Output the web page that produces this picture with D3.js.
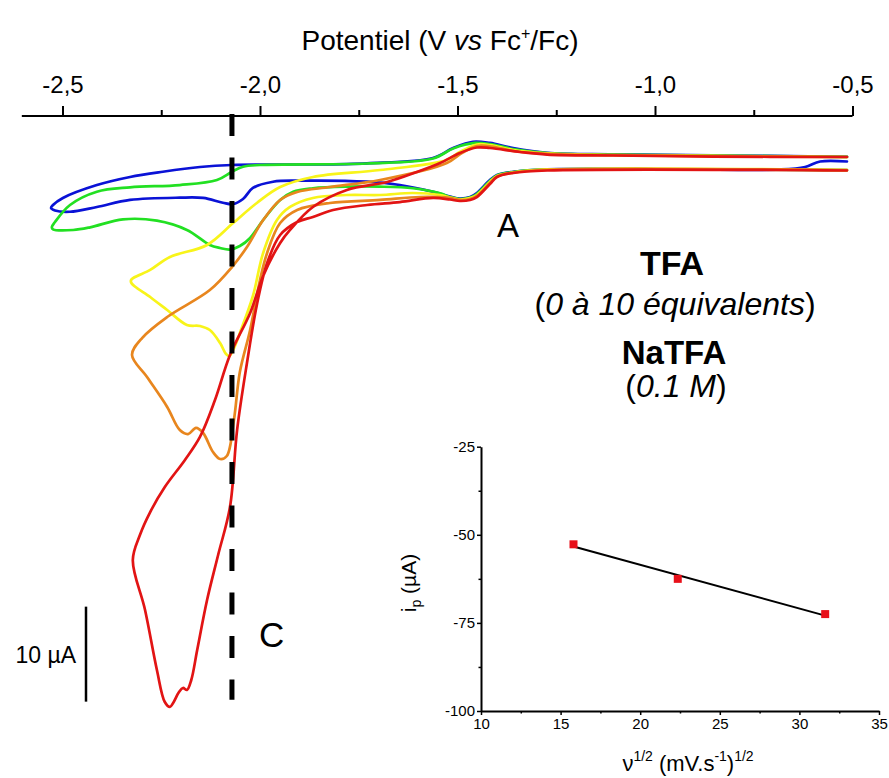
<!DOCTYPE html>
<html><head><meta charset="utf-8">
<script src="https://cdn.jsdelivr.net/npm/d3@7"></script>
<style>
html,body{margin:0;padding:0;background:#fff;}
svg{display:block;font-family:"Liberation Sans",Arial,sans-serif;}
</style></head>
<body><svg id="chart" width="889" height="778"></svg>
<script>
// ---------- DATA (E in V vs Fc+/Fc, i in µA) ----------
const potentialTicks = [-2.5, -2.0, -1.5, -1.0, -0.5];
const potentialMinorTicks = [-2.25, -1.75, -1.25, -0.75];
const markerPotential = -2.071;           // dashed vertical line (peak C)
const scaleBarValue = 10;                 // µA
const scaleBarTop = -46.7;                // µA, top of scale bar

const blueCV = [
 [-0.514,0.16],[-0.582,0.16],[-0.620,-0.42],[-0.684,-0.68],[-0.937,-0.66],[-1.273,-0.66],
 [-1.359,-0.92],[-1.400,-1.26],[-1.418,-1.79],[-1.451,-3.16],[-1.468,-3.58],[-1.494,-3.74],
 [-1.519,-3.53],[-1.562,-3.04],[-1.646,-2.32],[-1.729,-1.97],[-1.899,-1.86],[-1.967,-1.97],
 [-2.018,-2.63],[-2.043,-3.79],[-2.068,-4.32],[-2.094,-4.18],[-2.144,-3.68],[-2.203,-3.65],
 [-2.329,-3.89],[-2.413,-4.63],[-2.481,-5.13],[-2.519,-5.0],[-2.529,-4.74],
 [-2.524,-4.42],[-2.499,-3.68],[-2.413,-2.32],[-2.329,-1.47],[-2.246,-0.92],[-2.152,-0.42],
 [-2.071,-0.21],[-1.899,-0.16],[-1.729,-0.03],[-1.562,0.53],[-1.511,1.58],[-1.461,2.24],
 [-1.418,2.11],[-1.359,1.58],[-1.273,1.08],[-1.106,0.92],[-0.853,0.81],[-0.514,0.66]
];
const greenCV = [
 [-0.514,-0.74],[-0.937,-0.68],[-1.273,-0.68],[-1.359,-0.95],[-1.400,-1.32],[-1.418,-1.89],
 [-1.451,-3.26],[-1.468,-3.63],[-1.494,-3.79],[-1.519,-3.58],[-1.544,-3.19],[-1.613,-2.66],
 [-1.696,-2.49],[-1.780,-2.49],[-1.866,-2.66],[-1.916,-3.02],[-1.949,-3.89],[-1.992,-6.0],
 [-2.025,-7.89],[-2.051,-8.74],[-2.076,-9.11],[-2.101,-8.95],[-2.127,-8.63],[-2.185,-7.05],
 [-2.261,-6.07],[-2.347,-5.93],[-2.430,-6.77],[-2.473,-7.05],[-2.524,-6.98],[-2.527,-6.74],
 [-2.519,-6.21],[-2.481,-4.42],[-2.413,-3.02],[-2.329,-2.56],[-2.203,-2.32],[-2.109,-1.79],
 [-2.071,-0.92],[-2.043,-0.39],[-2.000,-0.21],[-1.729,-0.05],[-1.562,0.47],[-1.511,1.53],
 [-1.456,2.11],[-1.418,2.0],[-1.359,1.47],[-1.273,1.05],[-1.106,0.88],[-0.853,0.79],[-0.514,0.65]
];
const yellowCV = [
 [-0.514,-0.74],[-1.273,-0.68],[-1.359,-1.0],[-1.400,-1.37],[-1.418,-2.0],[-1.451,-3.37],
 [-1.468,-3.68],[-1.494,-3.84],[-1.519,-3.63],[-1.544,-3.37],[-1.613,-3.16],[-1.696,-3.37],
 [-1.780,-3.37],[-1.866,-3.68],[-1.924,-4.63],[-1.957,-6.0],[-1.992,-9.47],[-2.018,-14.0],
 [-2.051,-17.89],[-2.068,-19.68],[-2.078,-20.32],[-2.086,-20.11],[-2.101,-18.95],[-2.127,-17.58],
 [-2.152,-17.16],[-2.185,-17.05],[-2.235,-15.47],[-2.278,-14.11],[-2.327,-12.42],
 [-2.278,-11.26],[-2.228,-9.89],[-2.134,-8.63],[-2.068,-6.32],[-2.008,-4.21],
 [-1.949,-2.53],[-1.866,-1.47],[-1.696,-0.74],[-1.527,0.32],[-1.494,1.16],[-1.451,1.95],
 [-1.418,1.89],[-1.359,1.37],[-1.273,1.02],[-1.106,0.84],[-0.853,0.74],[-0.514,0.63]
];
const orangeCV = [
 [-0.514,-0.74],[-1.273,-0.71],[-1.359,-1.0],[-1.400,-1.42],[-1.418,-2.11],[-1.451,-3.47],
 [-1.468,-3.79],[-1.494,-3.89],[-1.519,-3.68],[-1.595,-3.58],[-1.696,-3.89],[-1.823,-4.21],
 [-1.906,-4.95],[-1.949,-6.32],[-1.982,-9.47],[-2.000,-12.32],[-2.025,-17.58],[-2.051,-22.0],
 [-2.066,-27.05],[-2.084,-30.84],[-2.101,-31.16],[-2.119,-30.42],[-2.144,-28.42],[-2.162,-27.89],
 [-2.182,-28.53],[-2.203,-28.11],[-2.235,-25.68],[-2.286,-22.53],[-2.324,-20.21],
 [-2.298,-18.4],[-2.235,-16.21],[-2.127,-13.37],[-2.071,-10.95],[-2.033,-8.84],[-1.992,-6.0],
 [-1.949,-3.89],[-1.906,-3.05],[-1.823,-2.53],[-1.696,-1.79],[-1.527,0.0],[-1.489,1.05],
 [-1.451,1.79],[-1.413,1.74],[-1.359,1.26],[-1.273,0.97],[-1.106,0.82],[-0.853,0.72],[-0.514,0.63]
];
const redCV = [
 [-0.514,-0.79],[-1.273,-0.79],[-1.359,-1.05],[-1.400,-1.47],[-1.418,-2.21],[-1.451,-3.58],
 [-1.468,-3.89],[-1.494,-4.0],[-1.519,-3.84],[-1.562,-3.68],[-1.646,-4.11],[-1.729,-4.42],
 [-1.815,-4.95],[-1.866,-5.68],[-1.906,-6.21],[-1.949,-7.58],[-1.982,-10.53],[-2.008,-14.95],
 [-2.033,-21.05],[-2.058,-28.11],[-2.076,-36.21],[-2.106,-41.26],[-2.134,-46.0],[-2.159,-51.26],
 [-2.174,-54.42],[-2.185,-55.47],[-2.195,-55.26],[-2.205,-55.68],[-2.220,-56.84],[-2.228,-57.26],
 [-2.241,-56.74],[-2.261,-53.37],[-2.291,-47.05],[-2.322,-41.79],
 [-2.304,-39.16],[-2.278,-36.74],[-2.241,-34.11],[-2.190,-31.26],[-2.152,-28.84],[-2.114,-24.95],
 [-2.076,-20.21],[-2.025,-15.79],[-1.992,-11.89],[-1.949,-8.42],[-1.924,-7.05],[-1.866,-4.63],
 [-1.780,-2.84],[-1.678,-2.0],[-1.603,-0.95],[-1.544,0.0],[-1.494,1.05],[-1.451,1.63],
 [-1.418,1.58],[-1.342,1.16],[-1.273,0.89],[-1.106,0.79],[-0.853,0.68],[-0.514,0.63]
];
const seriesNames = ["blue","green","yellow","orange","red"];
const seriesColors = ["#0a12d6","#22e022","#f8f41a","#e8861e","#e21414"];

// inset: peak current vs square root of scan rate
const insetSqrtRate = [15.81, 22.36, 31.62];
const insetPeakCurrent = [-52.7, -62.5, -72.5];
const insetXTicks = [10, 15, 20, 25, 30, 35];
const insetYTicks = [-100, -75, -50, -25];
const insetXMinor = [12.5, 17.5, 22.5, 27.5, 32.5];
const insetYMinor = [-87.5, -62.5, -37.5];

// ---------- DRAWING ----------
const svg = d3.select("#chart");
const x = d3.scaleLinear().domain([-2.5, -0.5]).range([62.5, 852.5]);
const y = d3.scaleLinear().domain([0, -10]).range([163, 258]);
const axisY = 116;
const hyphen = s => String(s).replace("\u2212", "-");

// top axis
const gAx = svg.append("g").attr("transform", `translate(0,${axisY})`);
gAx.append("line").attr("x1", x(-2.603)).attr("x2", x(-0.5)).attr("y1",0).attr("y2",0)
  .attr("stroke","#000").attr("stroke-width",2);
const majAxis = d3.axisTop(x).tickValues(potentialTicks).tickSize(10).tickPadding(13)
  .tickFormat(d => d3.format(".1f")(d).replace(".", ",").replace("\u2212","-"));
const gMaj = gAx.append("g").call(majAxis);
gMaj.select(".domain").remove();
gMaj.selectAll("line").attr("stroke","#000").attr("stroke-width",2);
gMaj.selectAll("text").attr("font-size",24).attr("fill","#000")
  .attr("font-family",'"Liberation Sans",Arial,sans-serif');
const gMin = gAx.append("g").call(d3.axisTop(x).tickValues(potentialMinorTicks).tickSize(6).tickFormat(""));
gMin.select(".domain").remove();
gMin.selectAll("line").attr("stroke","#000").attr("stroke-width",2);

// title
const title = svg.append("text").attr("x", 440).attr("y", 50).attr("text-anchor","middle")
  .attr("font-size", 28).attr("fill","#000");
title.append("tspan").text("Potentiel (V ");
title.append("tspan").attr("font-style","italic").text("vs");
title.append("tspan").text(" Fc");
title.append("tspan").attr("font-size",16).attr("dy",-11).text("+");
title.append("tspan").attr("dy",11).text("/Fc)");

// curves
const line = d3.line().x(d => x(d[0])).y(d => y(d[1])).curve(d3.curveCatmullRom.alpha(0.5));
const allSeries = [blueCV, greenCV, yellowCV, orangeCV, redCV];
svg.append("g").selectAll("path").data(allSeries).join("path")
  .attr("d", line).attr("fill","none")
  .attr("stroke", (d,i) => seriesColors[i]).attr("stroke-width", 2.7)
  .attr("stroke-linejoin","round").attr("stroke-linecap","round");

// dashed marker line
svg.append("line").attr("x1", x(markerPotential)).attr("x2", x(markerPotential))
  .attr("y1", axisY - 2).attr("y2", y(-56.5))
  .attr("stroke","#000").attr("stroke-width",5).attr("stroke-dasharray","22,21.5");

// scale bar
const sbx = 86;
svg.append("line").attr("x1", sbx).attr("x2", sbx)
  .attr("y1", y(scaleBarTop)).attr("y2", y(scaleBarTop - scaleBarValue))
  .attr("stroke","#000").attr("stroke-width",2.5);
svg.append("text").attr("x", 76).attr("y", 663).attr("text-anchor","end")
  .attr("font-size", 23).text(scaleBarValue + " µA");

// labels
svg.append("text").attr("x", 497).attr("y", 237).attr("font-size", 33).text("A");
svg.append("text").attr("x", 259).attr("y", 647).attr("font-size", 35).text("C");
svg.append("text").attr("x", 672).attr("y", 275).attr("text-anchor","middle")
  .attr("font-size", 34).attr("font-weight","bold").text("TFA");
const t2 = svg.append("text").attr("x", 675).attr("y", 315).attr("text-anchor","middle").attr("font-size", 32);
t2.append("tspan").text("(");
t2.append("tspan").attr("font-style","italic").text("0 à 10 équivalents");
t2.append("tspan").text(")");
svg.append("text").attr("x", 674).attr("y", 364).attr("text-anchor","middle")
  .attr("font-size", 33).attr("font-weight","bold").text("NaTFA");
const t4 = svg.append("text").attr("x", 676).attr("y", 397).attr("text-anchor","middle").attr("font-size", 32);
t4.append("tspan").text("(");
t4.append("tspan").attr("font-style","italic").text("0.1 M");
t4.append("tspan").text(")");

// ---------- INSET ----------
const ix = d3.scaleLinear().domain([10, 35]).range([481, 879]);
const iy = d3.scaleLinear().domain([-100, -25]).range([711, 446.7]);
const gi = svg.append("g");
gi.append("g").attr("transform","translate(0,711)")
  .call(d3.axisBottom(ix).tickValues(insetXTicks).tickSize(4).tickSizeOuter(0).tickPadding(3));
const gxm = gi.append("g").attr("transform","translate(0,711)")
  .call(d3.axisBottom(ix).tickValues(insetXMinor).tickSize(2.5).tickFormat(""));
gxm.select(".domain").remove();
gi.append("g").attr("transform","translate(481,0)")
  .call(d3.axisLeft(iy).tickValues(insetYTicks).tickSize(4).tickSizeOuter(0).tickPadding(2).tickFormat(hyphen));
const gym = gi.append("g").attr("transform","translate(481,0)")
  .call(d3.axisLeft(iy).tickValues(insetYMinor).tickSize(2.5).tickFormat(""));
gym.select(".domain").remove();
gi.selectAll(".domain").attr("stroke","#000").attr("stroke-width",2);
gi.selectAll(".tick line").attr("stroke","#000").attr("stroke-width",1.5);
gi.selectAll(".tick text").attr("font-size",15).attr("fill","#000")
  .attr("font-family",'"Liberation Sans",Arial,sans-serif');

// regression line
const n = insetSqrtRate.length;
const mx = d3.mean(insetSqrtRate), my = d3.mean(insetPeakCurrent);
let sxy = 0, sxx = 0;
for (let k = 0; k < n; k++) { sxy += (insetSqrtRate[k]-mx)*(insetPeakCurrent[k]-my); sxx += (insetSqrtRate[k]-mx)**2; }
const slope = sxy/sxx, icpt = my - slope*mx;
const x0 = d3.min(insetSqrtRate), x1 = d3.max(insetSqrtRate);
gi.append("line").attr("x1", ix(x0)).attr("y1", iy(icpt+slope*x0))
  .attr("x2", ix(x1)).attr("y2", iy(icpt+slope*x1))
  .attr("stroke","#000").attr("stroke-width",2);
gi.selectAll("rect.pt").data(insetSqrtRate).join("rect").attr("class","pt")
  .attr("x", (d) => ix(d) - 4).attr("y", (d,k) => iy(insetPeakCurrent[k]) - 4)
  .attr("width", 8).attr("height", 8).attr("fill","#e8101a");

// inset axis labels
const xl = gi.append("text").attr("x", 688).attr("y", 771).attr("text-anchor","middle").attr("font-size", 22);
xl.append("tspan").text("ν");
xl.append("tspan").attr("font-size",14).attr("dy",-10).text("1/2");
xl.append("tspan").attr("dy",10).text(" (mV.s");
xl.append("tspan").attr("font-size",14).attr("dy",-10).text("-1");
xl.append("tspan").attr("dy",10).text(")");
xl.append("tspan").attr("font-size",14).attr("dy",-10).text("1/2");
const yl = gi.append("text").attr("transform","translate(416,583) rotate(-90)")
  .attr("text-anchor","middle").attr("font-size", 21);
yl.append("tspan").text("i");
yl.append("tspan").attr("font-size",14).attr("dy",5).text("p");
yl.append("tspan").attr("dy",-5).text(" (µA)");
</script>
</body></html>
